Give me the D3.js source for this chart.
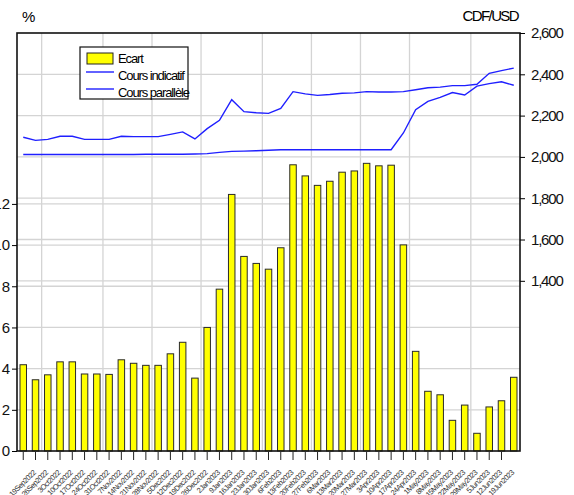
<!DOCTYPE html>
<html>
<head>
<meta charset="utf-8">
<script src="https://cdn.jsdelivr.net/npm/d3@7"></script>
<style>
  body { margin: 0; background: #fff; }
  svg { display: block; }
  text { font-family: "Liberation Sans Narrow", "Liberation Sans", Arial, sans-serif; }
</style>
</head>
<body>
<svg id="chart" width="574" height="495"></svg>
<script>
// Weekly observations (last one has no tick label in the original)
var dates = [
  '19Sep2022', '26Sep2022', '3Oct2022', '10Oct2022', '17Oct2022', '24Oct2022', '31Oct2022',
  '7Nov2022', '14Nov2022', '21Nov2022', '28Nov2022', '5Dec2022', '12Dec2022', '19Dec2022',
  '26Dec2022', '2Jan2023', '9Jan2023', '16Jan2023', '23Jan2023', '30Jan2023', '6Feb2023',
  '13Feb2023', '20Feb2023', '27Feb2023', '6Mar2023', '13Mar2023', '20Mar2023', '27Mar2023',
  '3Apr2023', '10Apr2023', '17Apr2023', '24Apr2023', '1May2023', '8May2023', '15May2023',
  '22May2023', '29May2023', '5Jun2023', '12Jun2023', '19Jun2023', '26Jun2023'
];

// Ecart (%), left axis
var ecart = [
  4.19, 3.46, 3.70, 4.33, 4.33, 3.74, 3.74, 3.72, 4.43, 4.26, 4.16, 4.16, 4.72, 5.28,
  3.54, 6.00, 7.86, 12.46, 9.45, 9.11, 8.83, 9.87, 13.90, 13.36, 12.90, 13.10, 13.54,
  13.60, 13.97, 13.85, 13.88, 10.01, 4.84, 2.90, 2.73, 1.49, 2.23, 0.86, 2.14, 2.44, 3.58
];

// CDF/USD, right axis
var coursIndicatif = [
  2012, 2012, 2012, 2012, 2012, 2012, 2012, 2012, 2012, 2012, 2013, 2013, 2013, 2013,
  2014, 2016, 2022, 2027, 2028, 2030, 2032, 2035, 2035, 2035, 2035, 2035, 2035, 2035,
  2035, 2035, 2035, 2116, 2229, 2269, 2288, 2312, 2300, 2343, 2355, 2364, 2347
];
var coursParallele = [
  2095, 2080, 2085, 2100, 2100, 2085, 2085, 2085, 2100, 2098, 2098, 2098, 2109, 2121,
  2087, 2137, 2177, 2277, 2219, 2214, 2211, 2235, 2316, 2305, 2298, 2302, 2308, 2310,
  2316, 2314, 2314, 2316, 2325, 2335, 2338, 2345, 2345, 2352, 2405, 2418, 2430
];

var leftTicks = [0, 2, 4, 6, 8, 10, 12];
var rightTicks = [1400, 1600, 1800, 2000, 2200, 2400, 2600];

var svg = d3.select('#chart');

var frame = {left: 17, right: 520, top: 33, bottom: 451};

var x = d3.scaleBand()
    .domain(dates)
    .range([frame.left + 3, frame.right - 3])
    .paddingInner(0.47)
    .paddingOuter(0);

var xCenter = function(d) { return x(d) + x.bandwidth() / 2; };

var yLeft = d3.scaleLinear().domain([0, 20.3]).range([frame.bottom, frame.top]);
var yRight = d3.scaleLinear().domain([576, 2600]).range([frame.bottom, frame.top]);

var grid = svg.append('g').attr('stroke', '#d4d4d4').attr('stroke-width', 1.3);

// vertical gridlines where the month changes
var parseDate = d3.timeParse('%d%b%Y');
var monthBreaks = [];
for (var i = 1; i < dates.length; i++) {
    if (parseDate(dates[i]).getMonth() !== parseDate(dates[i - 1]).getMonth()) {
        monthBreaks.push((xCenter(dates[i]) + xCenter(dates[i - 1])) / 2);
    }
}
grid.selectAll('line.v').data(monthBreaks).join('line')
    .attr('x1', d => d).attr('x2', d => d)
    .attr('y1', frame.top).attr('y2', frame.bottom);

grid.selectAll('line.hl').data(leftTicks.filter(d => d > 0)).join('line')
    .attr('x1', frame.left).attr('x2', frame.right)
    .attr('y1', d => yLeft(d)).attr('y2', d => yLeft(d));

grid.selectAll('line.hr').data(rightTicks.filter(d => d < 2600)).join('line')
    .attr('x1', frame.left).attr('x2', frame.right)
    .attr('y1', d => yRight(d)).attr('y2', d => yRight(d));

// bars
svg.append('g').selectAll('rect').data(dates).join('rect')
    .attr('x', d => x(d))
    .attr('width', x.bandwidth())
    .attr('y', (d, i) => yLeft(ecart[i]))
    .attr('height', (d, i) => yLeft(0) - yLeft(ecart[i]))
    .attr('fill', '#ffff00')
    .attr('stroke', '#2a2a2a')
    .attr('stroke-width', 1);

// lines
var line = function(values) {
    return d3.line()
        .x((d, i) => xCenter(dates[i]))
        .y(d => yRight(d))(values);
};
[coursIndicatif, coursParallele].forEach(function(values) {
    svg.append('path')
        .attr('d', line(values))
        .attr('fill', 'none')
        .attr('stroke', '#1f1fff')
        .attr('stroke-width', 1.4);
});

// frame
svg.append('rect')
    .attr('x', frame.left).attr('y', frame.top)
    .attr('width', frame.right - frame.left).attr('height', frame.bottom - frame.top)
    .attr('fill', 'none').attr('stroke', '#111').attr('stroke-width', 1.6);

// left axis
var leftAxis = svg.append('g')
    .attr('transform', 'translate(' + frame.left + ',0)')
    .call(d3.axisLeft(yLeft).tickValues(leftTicks).tickSize(5).tickFormat(d3.format('d')));
leftAxis.select('.domain').remove();
leftAxis.selectAll('text')
    .attr('font-family', '"Liberation Sans", Arial, sans-serif')
    .attr('font-size', 15).attr('dx', 1).attr('fill', '#111');

// right axis
var rightAxis = svg.append('g')
    .attr('transform', 'translate(' + frame.right + ',0)')
    .call(d3.axisRight(yRight).tickValues(rightTicks).tickSize(5).tickPadding(6)
        .tickFormat(d3.format(',')));
rightAxis.select('.domain').remove();
rightAxis.selectAll('text')
    .attr('font-family', '"Liberation Sans", Arial, sans-serif')
    .attr('font-size', 15).attr('letter-spacing', -1.2).attr('fill', '#111');

// bottom axis: ticks on every observation but the last
var labelled = dates.slice(0, dates.length - 1);
var bottomAxis = svg.append('g')
    .attr('transform', 'translate(0,' + frame.bottom + ')')
    .call(d3.axisBottom(x).tickValues(labelled).tickSize(8).tickPadding(4));
bottomAxis.select('.domain').remove();
bottomAxis.selectAll('line').attr('transform', 'translate(0,1)').attr('stroke', '#222');
bottomAxis.selectAll('text')
    .attr('font-size', 7.5)
    .attr('letter-spacing', -0.5)
    .attr('fill', '#333')
    .attr('text-anchor', 'end')
    .attr('dy', '0.3em')
    .attr('transform', 'translate(3,12) rotate(-45)');

// axis titles
svg.append('text').attr('x', 22).attr('y', 22).attr('font-size', 15)
    .attr('font-family', '"Liberation Sans", Arial, sans-serif').text('%');
svg.append('text').attr('x', 518).attr('y', 21).attr('font-size', 15)
    .attr('font-family', '"Liberation Sans", Arial, sans-serif')
    .attr('letter-spacing', -1.6).attr('text-anchor', 'end').text('CDF/USD');

// legend
var legend = svg.append('g').attr('transform', 'translate(80,47)');
legend.append('rect').attr('width', 108).attr('height', 52)
    .attr('fill', '#fff').attr('stroke', '#111').attr('stroke-width', 1.2);
legend.append('rect').attr('x', 7).attr('y', 6).attr('width', 26).attr('height', 11)
    .attr('fill', '#ffff00').attr('stroke', '#222');
[25, 42].forEach(function(yy) {
    legend.append('line').attr('x1', 6).attr('x2', 34).attr('y1', yy).attr('y2', yy)
        .attr('stroke', '#1f1fff').attr('stroke-width', 1.4);
});
var legendLabels = ['Ecart', 'Cours indicatif', 'Cours parallèle'];
legend.selectAll('text.lab').data(legendLabels).join('text')
    .attr('x', 38).attr('y', (d, i) => 16 + i * 17)
    .attr('font-size', 13).attr('letter-spacing', -1.1)
    .text(d => d);
</script>
</body>
</html>
